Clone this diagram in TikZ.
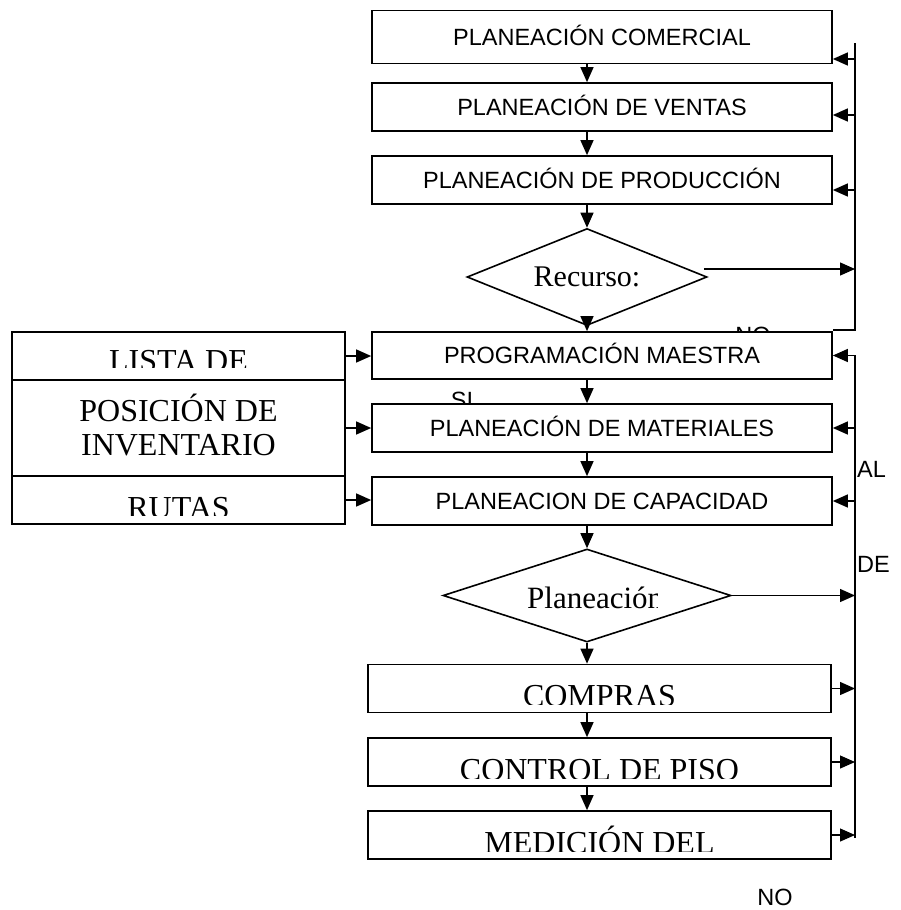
\documentclass[tikz,border=0pt]{standalone}
\usepackage{fontspec}
\setmainfont{Liberation Serif}
\newfontfamily\sansf{Liberation Sans}
\usetikzlibrary{arrows.meta,shapes.geometric,calc}
\begin{document}
\begin{tikzpicture}[x=1pt,y=-1pt,
  sanstxt/.style={font=\sansf\fontsize{23.5}{28}\selectfont,text height=16.8pt,text depth=0pt,inner sep=0pt},
  seriftxt/.style={font=\fontsize{32}{34}\selectfont,inner sep=0pt},
  box/.style={draw,line width=1.7pt,fill=white,rectangle,inner sep=0pt,minimum width=460pt,minimum height=48pt,sanstxt},
  lbox/.style={draw,line width=1.7pt,fill=white,rectangle,inner sep=0pt,minimum width=333pt,minimum height=48pt},
  dbox/.style={draw,line width=1.7pt,fill=white,rectangle,inner sep=0pt,minimum width=463pt,minimum height=48pt},
  dia/.style={draw,line width=1.6pt,fill=white,diamond,inner sep=0pt},
  conn/.style={line width=1.3pt},
  arr/.style={line width=1.3pt,-{Triangle[length=15pt,width=13pt]}},
]
\fill[white] (0,0) rectangle (900,910);
\useasboundingbox (0,0) rectangle (900,910);

% partly hidden labels (drawn first, boxes cover them)
\node[sanstxt] (no1) at (753,335) {NO};
\node[sanstxt] (si) at (462,400.5) {SI};

% main column
\node[box,minimum height=53pt] (b1) at (602,37) {PLANEACIÓN COMERCIAL};
\node[box] (b2) at (602,107) {PLANEACIÓN DE VENTAS};
\node[box] (b3) at (602,180) {PLANEACIÓN DE PRODUCCIÓN};
\node[dia,aspect=2.5,minimum width=240pt,minimum height=97pt,font=\fontsize{30}{32}\selectfont,text height=19.8pt,text depth=0pt] (rec) at (587,277) {Recurso:};
\node[box,minimum height=47pt] (prog) at (602,355.5) {PROGRAMACIÓN MAESTRA};
\node[box] (mat) at (602,428) {PLANEACIÓN DE MATERIALES};
\node[box] (cap) at (602,501) {PLANEACION DE CAPACIDAD};

\node[dia,aspect=3,minimum width=288pt,minimum height=93pt] (pl) at (587,595.5) {};
\begin{scope}
  \clip (440,560) rectangle (657,632);
  \node[font=\fontsize{31}{34}\selectfont,inner sep=0pt,anchor=base west] (plt) at (527,608) {Planeación};
\end{scope}

\node[dbox] (comp) at (599.5,688.5) {};
\node[dbox] (ctrl) at (599.5,762) {};
\node[dbox] (med) at (599.5,835) {};
\begin{scope}
  \clip (368,664) rectangle (831,704);
  \node[seriftxt,anchor=base] (compt) at (599.5,706) {COMPRAS};
\end{scope}
\begin{scope}
  \clip (368,738) rectangle (831,778);
  \node[seriftxt,anchor=base] (ctrlt) at (599.5,780) {CONTROL DE PISO};
\end{scope}
\begin{scope}
  \clip (368,811) rectangle (831,851);
  \node[seriftxt,anchor=base] (medt) at (599.5,853) {MEDICIÓN DEL};
\end{scope}

% left column
\node[lbox] (lista) at (178.5,356) {};
\node[lbox,minimum height=96pt,font=\fontsize{32}{34}\selectfont,align=center,text height=55.2pt,text depth=0pt] (posic) at (178.5,428) {POSICIÓN DE\\INVENTARIO};
\node[lbox] (rutas) at (178.5,500) {};
\begin{scope}
  \clip (12,332) rectangle (345,367.5);
  \node[seriftxt,anchor=base] (listat) at (178.5,371) {LISTA DE};
\end{scope}
\begin{scope}
  \clip (12,476) rectangle (345,515);
  \node[seriftxt,anchor=base] (rutast) at (178.5,518) {RUTAS};
\end{scope}

% vertical flow
\coordinate (ax) at (587,0);
\draw[arr] (b1.south -| ax) -- (b2.north -| ax);
\draw[arr] (b2.south -| ax) -- (b3.north -| ax);
\draw[arr] (b3.south -| ax) -- (rec.north);
\draw[arr] (rec.south) -- (prog.north -| ax);
\draw[arr] (prog.south -| ax) -- (mat.north -| ax);
\draw[arr] (mat.south -| ax) -- (cap.north -| ax);
\draw[arr] (cap.south -| ax) -- (pl.north);
\draw[arr] (pl.south) -- (comp.north -| ax);
\draw[arr] (comp.south -| ax) -- (ctrl.north -| ax);
\draw[arr] (ctrl.south -| ax) -- (med.north -| ax);

% upper feedback line
\coordinate (rt) at (855,43);
\coordinate (rb) at (855,330);
\draw[conn] (rt) -- (rb) -- (rb -| prog.east);
\coordinate (r1) at (855,59);
\coordinate (r2) at (855,115);
\coordinate (r3) at (855,190);
\draw[arr] (r1) -- (r1 -| b1.east);
\draw[arr] (r2) -- (r2 -| b2.east);
\draw[arr] (r3) -- (r3 -| b3.east);
\coordinate (re) at ($(rec.east)+(-4,-8)$);
\draw[arr] (re) -- (re -| rt);

% lower feedback line
\coordinate (lt) at (855,355);
\coordinate (lb) at (855,838);
\draw[conn] (lt) -- (lb);
\draw[arr] (prog.east -| lt) -- (prog.east);
\draw[arr] (mat.east -| lt) -- (mat.east);
\draw[arr] (cap.east -| lt) -- (cap.east);
\draw[arr] (pl.east) -- (pl.east -| lt);
\draw[arr] (comp.east) -- (comp.east -| lt);
\draw[arr] (ctrl.east) -- (ctrl.east -| lt);
\draw[arr] (med.east) -- (med.east -| lt);

% left inputs
\draw[arr] (lista.east) -- (lista.east -| prog.west);
\draw[arr] (posic.east) -- (posic.east -| mat.west);
\draw[arr] (rutas.east) -- (rutas.east -| cap.west);

% labels
\node[sanstxt,anchor=west] (al) at (857,469) {AL};
\node[sanstxt,anchor=west] (de) at (857,564) {DE};
\node[sanstxt] (no2) at (775,897) {NO};
\end{tikzpicture}
\end{document}
